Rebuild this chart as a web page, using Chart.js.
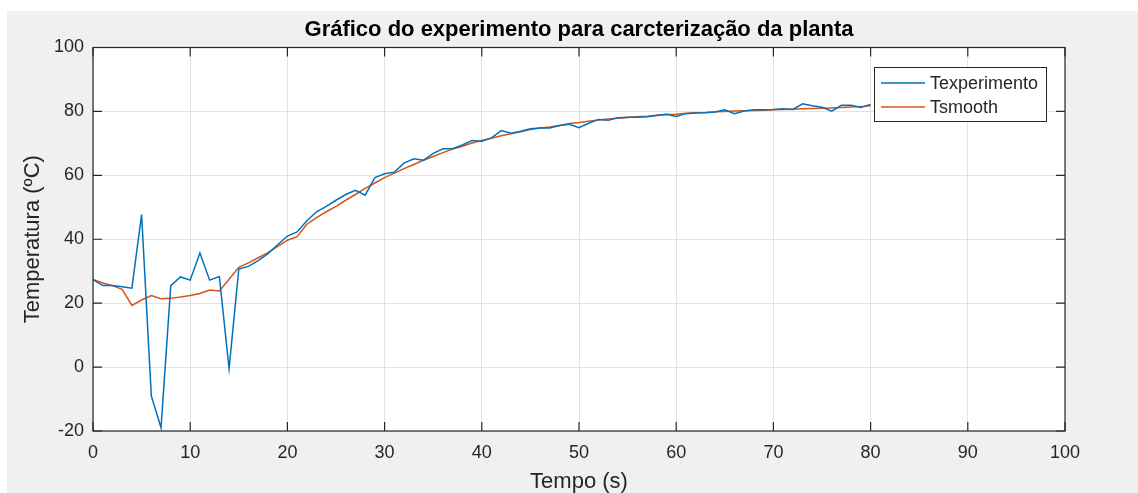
<!DOCTYPE html>
<html>
<head>
<meta charset="utf-8">
<script src="https://cdn.jsdelivr.net/npm/chart.js@4.4.0/dist/chart.umd.min.js"></script>
<style>
  html, body { margin: 0; padding: 0; background: #ffffff; }
  #wrap { width: 1138px; height: 493px; }
</style>
</head>
<body>
<div id="wrap"><canvas id="plantChart" width="1138" height="493"></canvas></div>
<script>
// Tempo (s)
const tempo = [0, 1, 2, 3, 4, 5, 6, 7, 8, 9, 10, 11, 12, 13, 14, 15, 16, 17, 18, 19,
  20, 21, 22, 23, 24, 25, 26, 27, 28, 29, 30, 31, 32, 33, 34, 35, 36, 37, 38, 39,
  40, 41, 42, 43, 44, 45, 46, 47, 48, 49, 50, 51, 52, 53, 54, 55, 56, 57, 58, 59,
  60, 61, 62, 63, 64, 65, 66, 67, 68, 69, 70, 71, 72, 73, 74, 75, 76, 77, 78, 79, 80];

// Temperatura medida
const tExperimento = [27.4, 25.5, 25.5, 25.1, 24.7, 47.7, -9.0, -19.0, 25.5, 28.2,
  27.2, 35.7, 27.2, 28.3, -0.5, 30.7, 31.5, 33.3, 35.5, 38.3,
  41.0, 42.3, 45.8, 48.6, 50.3, 52.2, 54.0, 55.3, 53.8, 59.3,
  60.5, 61.0, 63.8, 65.2, 64.7, 66.9, 68.3, 68.3, 69.5, 70.9,
  70.7, 71.7, 74.0, 73.2, 73.8, 74.6, 74.8, 74.8, 75.6, 76.0,
  74.9, 76.3, 77.5, 77.2, 78.0, 78.2, 78.2, 78.3, 78.75, 79.1,
  78.4, 79.3, 79.5, 79.6, 79.8, 80.5, 79.3, 80.1, 80.5, 80.5,
  80.6, 80.8, 80.6, 82.4, 81.8, 81.3, 80.1, 81.9, 81.9, 81.2, 82.2];

// Temperatura suavizada
const tSmooth = [27.4, 26.3, 25.5, 24.3, 19.3, 21.0, 22.4, 21.4, 21.5, 21.9,
  22.4, 23.0, 24.1, 23.8, 27.5, 31.2, 32.6, 34.2, 35.8, 37.8,
  39.7, 40.8, 44.7, 46.8, 48.6, 50.3, 52.2, 54.0, 55.9, 57.6,
  59.3, 60.7, 62.1, 63.4, 64.7, 65.9, 67.1, 68.2, 69.1, 70.1,
  70.9, 71.6, 72.4, 73.0, 73.6, 74.3, 74.8, 75.1, 75.6, 76.2,
  76.5, 76.9, 77.3, 77.6, 77.9, 78.1, 78.3, 78.5, 78.8, 79.0,
  79.1, 79.4, 79.6, 79.7, 79.9, 80.0, 80.1, 80.2, 80.3, 80.4,
  80.5, 80.6, 80.7, 80.8, 80.9, 81.0, 81.1, 81.2, 81.4, 81.5, 81.8];

const xTicks = [0, 10, 20, 30, 40, 50, 60, 70, 80, 90, 100];
const yTicks = [-20, 0, 20, 40, 60, 80, 100];
const seriesNames = ['Texperimento', 'Tsmooth'];
const titulo = 'Gráfico do experimento para carcterização da planta';

const FONT = "'Liberation Sans', Arial, Helvetica, sans-serif";
const AXIS_COLOR = '#262626';

const toPoints = (ys) => ys.map((y, i) => ({ x: tempo[i], y: y }));

// fundo cinza da figura + area branca dos eixos
const figureBackground = {
    id: 'figureBackground',
    beforeDraw(chart) {
        const ctx = chart.ctx;
        const a = chart.chartArea;
        ctx.save();
        ctx.fillStyle = '#ffffff';
        ctx.fillRect(0, 0, chart.width, chart.height);
        ctx.fillStyle = '#f0f0f0';
        ctx.fillRect(7, 11, chart.width - 7, chart.height - 11);
        ctx.fillStyle = '#ffffff';
        ctx.fillRect(a.left, a.top, a.right - a.left, a.bottom - a.top);
        ctx.restore();
    }
};

// caixa dos eixos com ticks para dentro, titulo centrado nos eixos e legenda
const axesBox = {
    id: 'axesBox',
    afterDatasetsDraw(chart) {
        const ctx = chart.ctx;
        const a = chart.chartArea;
        const xs = chart.scales.x, ys = chart.scales.y;
        const tl = 9;
        ctx.save();
        ctx.strokeStyle = AXIS_COLOR;
        ctx.lineWidth = 1.2;
        ctx.strokeRect(a.left, a.top, a.right - a.left, a.bottom - a.top);
        ctx.beginPath();
        xTicks.forEach(v => {
            const px = xs.getPixelForValue(v);
            ctx.moveTo(px, a.bottom); ctx.lineTo(px, a.bottom - tl);
            ctx.moveTo(px, a.top); ctx.lineTo(px, a.top + tl);
        });
        yTicks.forEach(v => {
            const py = ys.getPixelForValue(v);
            ctx.moveTo(a.left, py); ctx.lineTo(a.left + tl, py);
            ctx.moveTo(a.right, py); ctx.lineTo(a.right - tl, py);
        });
        ctx.stroke();

        // titulo
        ctx.fillStyle = '#000000';
        ctx.font = 'bold 22px ' + FONT;
        ctx.textAlign = 'center';
        ctx.textBaseline = 'middle';
        ctx.fillText(titulo, (a.left + a.right) / 2, 30);

        // legenda
        const lx = 874, ly = 67, lw = 172, lh = 54;
        ctx.fillStyle = '#ffffff';
        ctx.fillRect(lx, ly, lw, lh);
        ctx.lineWidth = 1;
        ctx.strokeStyle = AXIS_COLOR;
        ctx.strokeRect(lx + 0.5, ly + 0.5, lw, lh);
        ctx.font = '18px ' + FONT;
        ctx.textBaseline = 'middle';
        ctx.textAlign = 'left';
        chart.data.datasets.forEach((ds, i) => {
            const yy = ly + 16 + i * 24;
            ctx.strokeStyle = ds.borderColor;
            ctx.lineWidth = 1.5;
            ctx.beginPath();
            ctx.moveTo(lx + 7, yy); ctx.lineTo(lx + 51, yy);
            ctx.stroke();
            ctx.fillStyle = AXIS_COLOR;
            ctx.fillText(seriesNames[i], lx + 56, yy + 1);
        });
        ctx.restore();
    }
};

new Chart(document.getElementById('plantChart'), {
    type: 'line',
    data: {
        datasets: [
            {
                label: seriesNames[0],
                data: toPoints(tExperimento),
                borderColor: '#0072BD',
                borderWidth: 1.5,
                pointRadius: 0,
                tension: 0
            },
            {
                label: seriesNames[1],
                data: toPoints(tSmooth),
                borderColor: '#D95319',
                borderWidth: 1.5,
                pointRadius: 0,
                tension: 0
            }
        ]
    },
    options: {
        responsive: false,
        animation: false,
        layout: { padding: { left: 0, right: 73, top: 47.5, bottom: 0 } },
        plugins: {
            legend: { display: false },
            tooltip: { enabled: false },
            title: { display: false }
        },
        scales: {
            x: {
                type: 'linear',
                min: 0,
                max: 100,
                afterBuildTicks: (s) => { s.ticks = xTicks.map(v => ({ value: v })); },
                afterFit: (s) => { s.height = 62; },
                ticks: { color: AXIS_COLOR, font: { family: FONT, size: 18 }, padding: 11, maxRotation: 0 },
                grid: { color: '#e3e3e3', lineWidth: 1, drawTicks: false },
                border: { display: false },
                title: {
                    display: true,
                    text: 'Tempo (s)',
                    color: AXIS_COLOR,
                    font: { family: FONT, size: 22, lineHeight: 1 },
                    padding: { top: 0, bottom: 0 }
                }
            },
            y: {
                type: 'linear',
                min: -20,
                max: 100,
                afterBuildTicks: (s) => { s.ticks = yTicks.map(v => ({ value: v })); },
                afterFit: (s) => { s.width = 93; },
                ticks: { color: AXIS_COLOR, font: { family: FONT, size: 18 }, padding: 9 },
                grid: { color: '#e3e3e3', lineWidth: 1, drawTicks: false },
                border: { display: false },
                title: {
                    display: true,
                    text: 'Temperatura (ºC)',
                    color: AXIS_COLOR,
                    font: { family: FONT, size: 22, lineHeight: 1 },
                    padding: { top: 22, bottom: 0 }
                }
            }
        }
    },
    plugins: [figureBackground, axesBox]
});
</script>
</body>
</html>
